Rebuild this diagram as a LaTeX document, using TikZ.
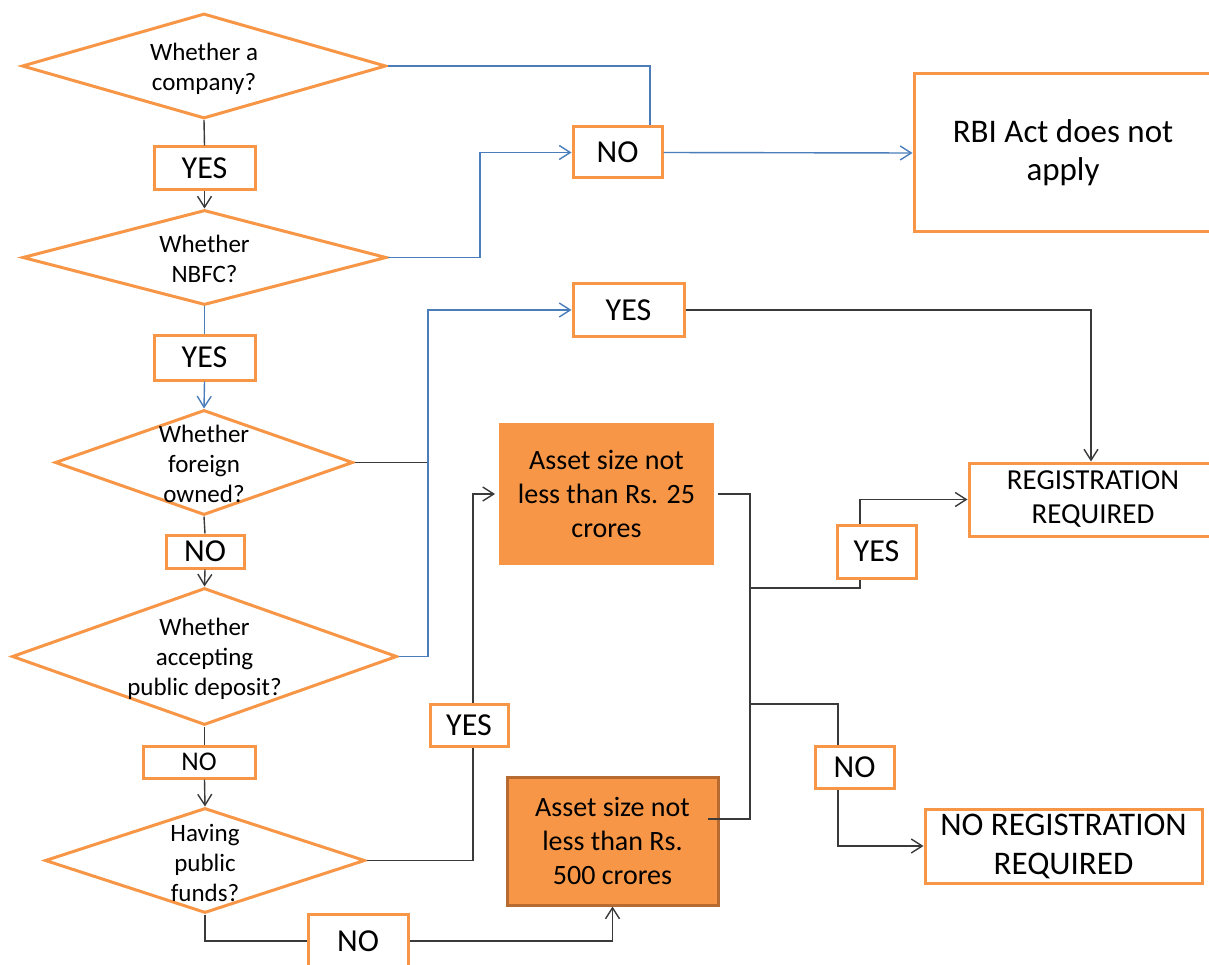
\documentclass[tikz,border=0pt]{standalone}
\usepackage{fontspec}
\setmainfont{Carlito}
\usetikzlibrary{shapes.geometric,arrows.meta,shadows,calc}
\definecolor{orng}{HTML}{F79646}
\definecolor{orngdark}{HTML}{B86B30}
\definecolor{bluel}{HTML}{4A7EBB}
\definecolor{blk}{HTML}{3A3A3A}
\begin{document}
\begin{tikzpicture}[x=1pt,y=-1pt,
  dia/.style={shape=diamond,draw=orng,line width=3pt,inner sep=0pt,fill=white},
  dtext/.style={align=center,inner sep=0pt,font=\fontsize{25}{30}\selectfont},
  lbl/.style={draw=orng,line width=3pt,fill=white,inner sep=0pt,align=center,font=\fontsize{32}{38}\selectfont},
  endbox/.style={draw=orng,line width=3pt,fill=white,inner sep=0pt,align=center},
  assetbox/.style={fill=orng,inner sep=0pt,align=center,font=\fontsize{28}{34}\selectfont},
  bk/.style={draw=blk,line width=1.4pt},
  bl/.style={draw=bluel,line width=1.4pt},
  tip/.style={-{Straight Barb[length=11pt,width=14pt]}}
]
\useasboundingbox (0,0) rectangle (1209,965);
\clip (0,0) rectangle (1209,965);
\fill[white] (0,0) rectangle (1209,965);

% diamonds
\node[dia,minimum width=364,minimum height=105] (d1) at (204,66) {};
\node[dtext] (t1) at ([yshift=-3]d1) {Whether a\\company?};
\node[dia,minimum width=364,minimum height=95] (d2) at (204.5,257.5) {};
\node[dtext] (t2) at ([yshift=-1]d2) {Whether\\NBFC?};
\node[dia,minimum width=298,minimum height=105] (d3) at (204,462.5) {};
\node[dtext] (t3) at ([yshift=-1]d3) {Whether\\foreign\\owned?};
\node[dia,minimum width=385,minimum height=137] (d4) at (204.5,656.5) {};
\node[dtext] (t4) at ([yshift=-2]d4) {Whether\\accepting\\public deposit?};
\node[dia,minimum width=320,minimum height=105] (d5) at (205,860.5) {};
\node[dtext] (t5) at ([yshift=-2]d5) {Having\\public\\funds?};

% label boxes
\node[lbl,minimum width=101,minimum height=43] (yes1) at (204.5,168.5) {YES};
\node[lbl,minimum width=101,minimum height=45] (yes2) at (204.5,357.5) {YES};
\node[lbl,minimum width=78,minimum height=33] (no2) at (205,551.5) {NO};
\node[lbl,minimum width=112,minimum height=32,font=\fontsize{27}{32}\selectfont] (no3) at (199,762) {NO};
\node[lbl,minimum width=100,minimum height=54] (no4) at (358,941) {NO};
\node[lbl,minimum width=89,minimum height=51] (noT) at (617.5,152.5) {NO};
\node[lbl,minimum width=111,minimum height=52] (yesT) at (628.5,310) {YES};
\node[lbl,minimum width=78,minimum height=42] (yesH) at (469,725) {YES};
\node[lbl,minimum width=79,minimum height=53] (yesR) at (876.5,551.5) {YES};
\node[lbl,minimum width=79,minimum height=42] (noR) at (854.5,767) {NO};

% end boxes
\node[endbox,minimum width=298,minimum height=158,font=\fontsize{33}{38}\selectfont] (rbi) at (1063,153) {RBI Act does not\\apply};
\node[endbox,minimum width=248,minimum height=73,font=\fontsize{29}{34}\selectfont] (reg) at (1093,499.5) {REGISTRATION\\REQUIRED};
\node[endbox,minimum width=277,minimum height=74,font=\fontsize{33}{39}\selectfont] (noreg) at (1063.5,846) {NO REGISTRATION\\REQUIRED};

% asset boxes
\node[assetbox,draw=white,line width=4pt,minimum width=219,minimum height=146,
      drop shadow={shadow xshift=1pt,shadow yshift=-2pt,fill=black,opacity=0.25}] (a25) at (606.5,494) {Asset size not\\less than Rs. 25\\crores};
\node[assetbox,draw=orngdark,line width=3pt,minimum width=211,minimum height=128] (a500) at (612.5,841) {Asset size not\\less than Rs.\\500 crores};

% helper coordinates
\coordinate (cx) at (428,0);
\coordinate (jt) at (750,494);
\coordinate (jy) at (750,588);
\coordinate (jn) at (750,704);
\coordinate (jb) at (750,819);

% black connectors
\draw[bk] (d1.south) -- (yes1.north);
\draw[bk,tip] (yes1.south) -- (d2.north);
\draw[bk] (d3.south) -- (no2.north);
\draw[bk,tip] (no2.south) -- (d4.north);
\draw[bk] (d4.south) -- (d4.south |- no3.north);
\draw[bk,tip] (d4.south |- no3.south) -- (d5.north);
\draw[bk] (d5.south) |- (no4.west);
\draw[bk,tip] (no4.east) -| (a500.south);
\draw[bk] (d3.east) -- (d3.east -| cx);
\draw[bk] (d5.east) -| ([xshift=4]yesH.south);
\draw[bk,tip] ([xshift=4]yesH.north) |- (a25.west);
\draw[bk] (a25.east) -- (jt) -- (jb) -- ($(a500.east)+(-12,-22)$);
\draw[bk] (jy) -| ([xshift=-16.5]yesR.south);
\draw[bk,tip] ([xshift=-16.5]yesR.north) |- (reg.west);
\draw[bk] (jn) -| ([xshift=-16.5]noR.north);
\draw[bk,tip] ([xshift=-16.5]noR.south) |- (noreg.west);
\draw[bk,tip] (yesT.east) -| ([xshift=-2]reg.north);

% blue connectors
\draw[bl] (d2.south) -- (yes2.north);
\draw[bl,tip] (yes2.south) -- (d3.north);
\draw[bl] (d1.east) -| ([xshift=32.5]noT.north);
\draw[bl,tip] (d2.east) -- ++(92,0) |- (noT.west);
\draw[bl,tip] (noT.east) -- (rbi.west);
\draw[bl,tip] (d4.east) -| (cx |- yesT.west) -- (yesT.west);
\end{tikzpicture}
\end{document}
